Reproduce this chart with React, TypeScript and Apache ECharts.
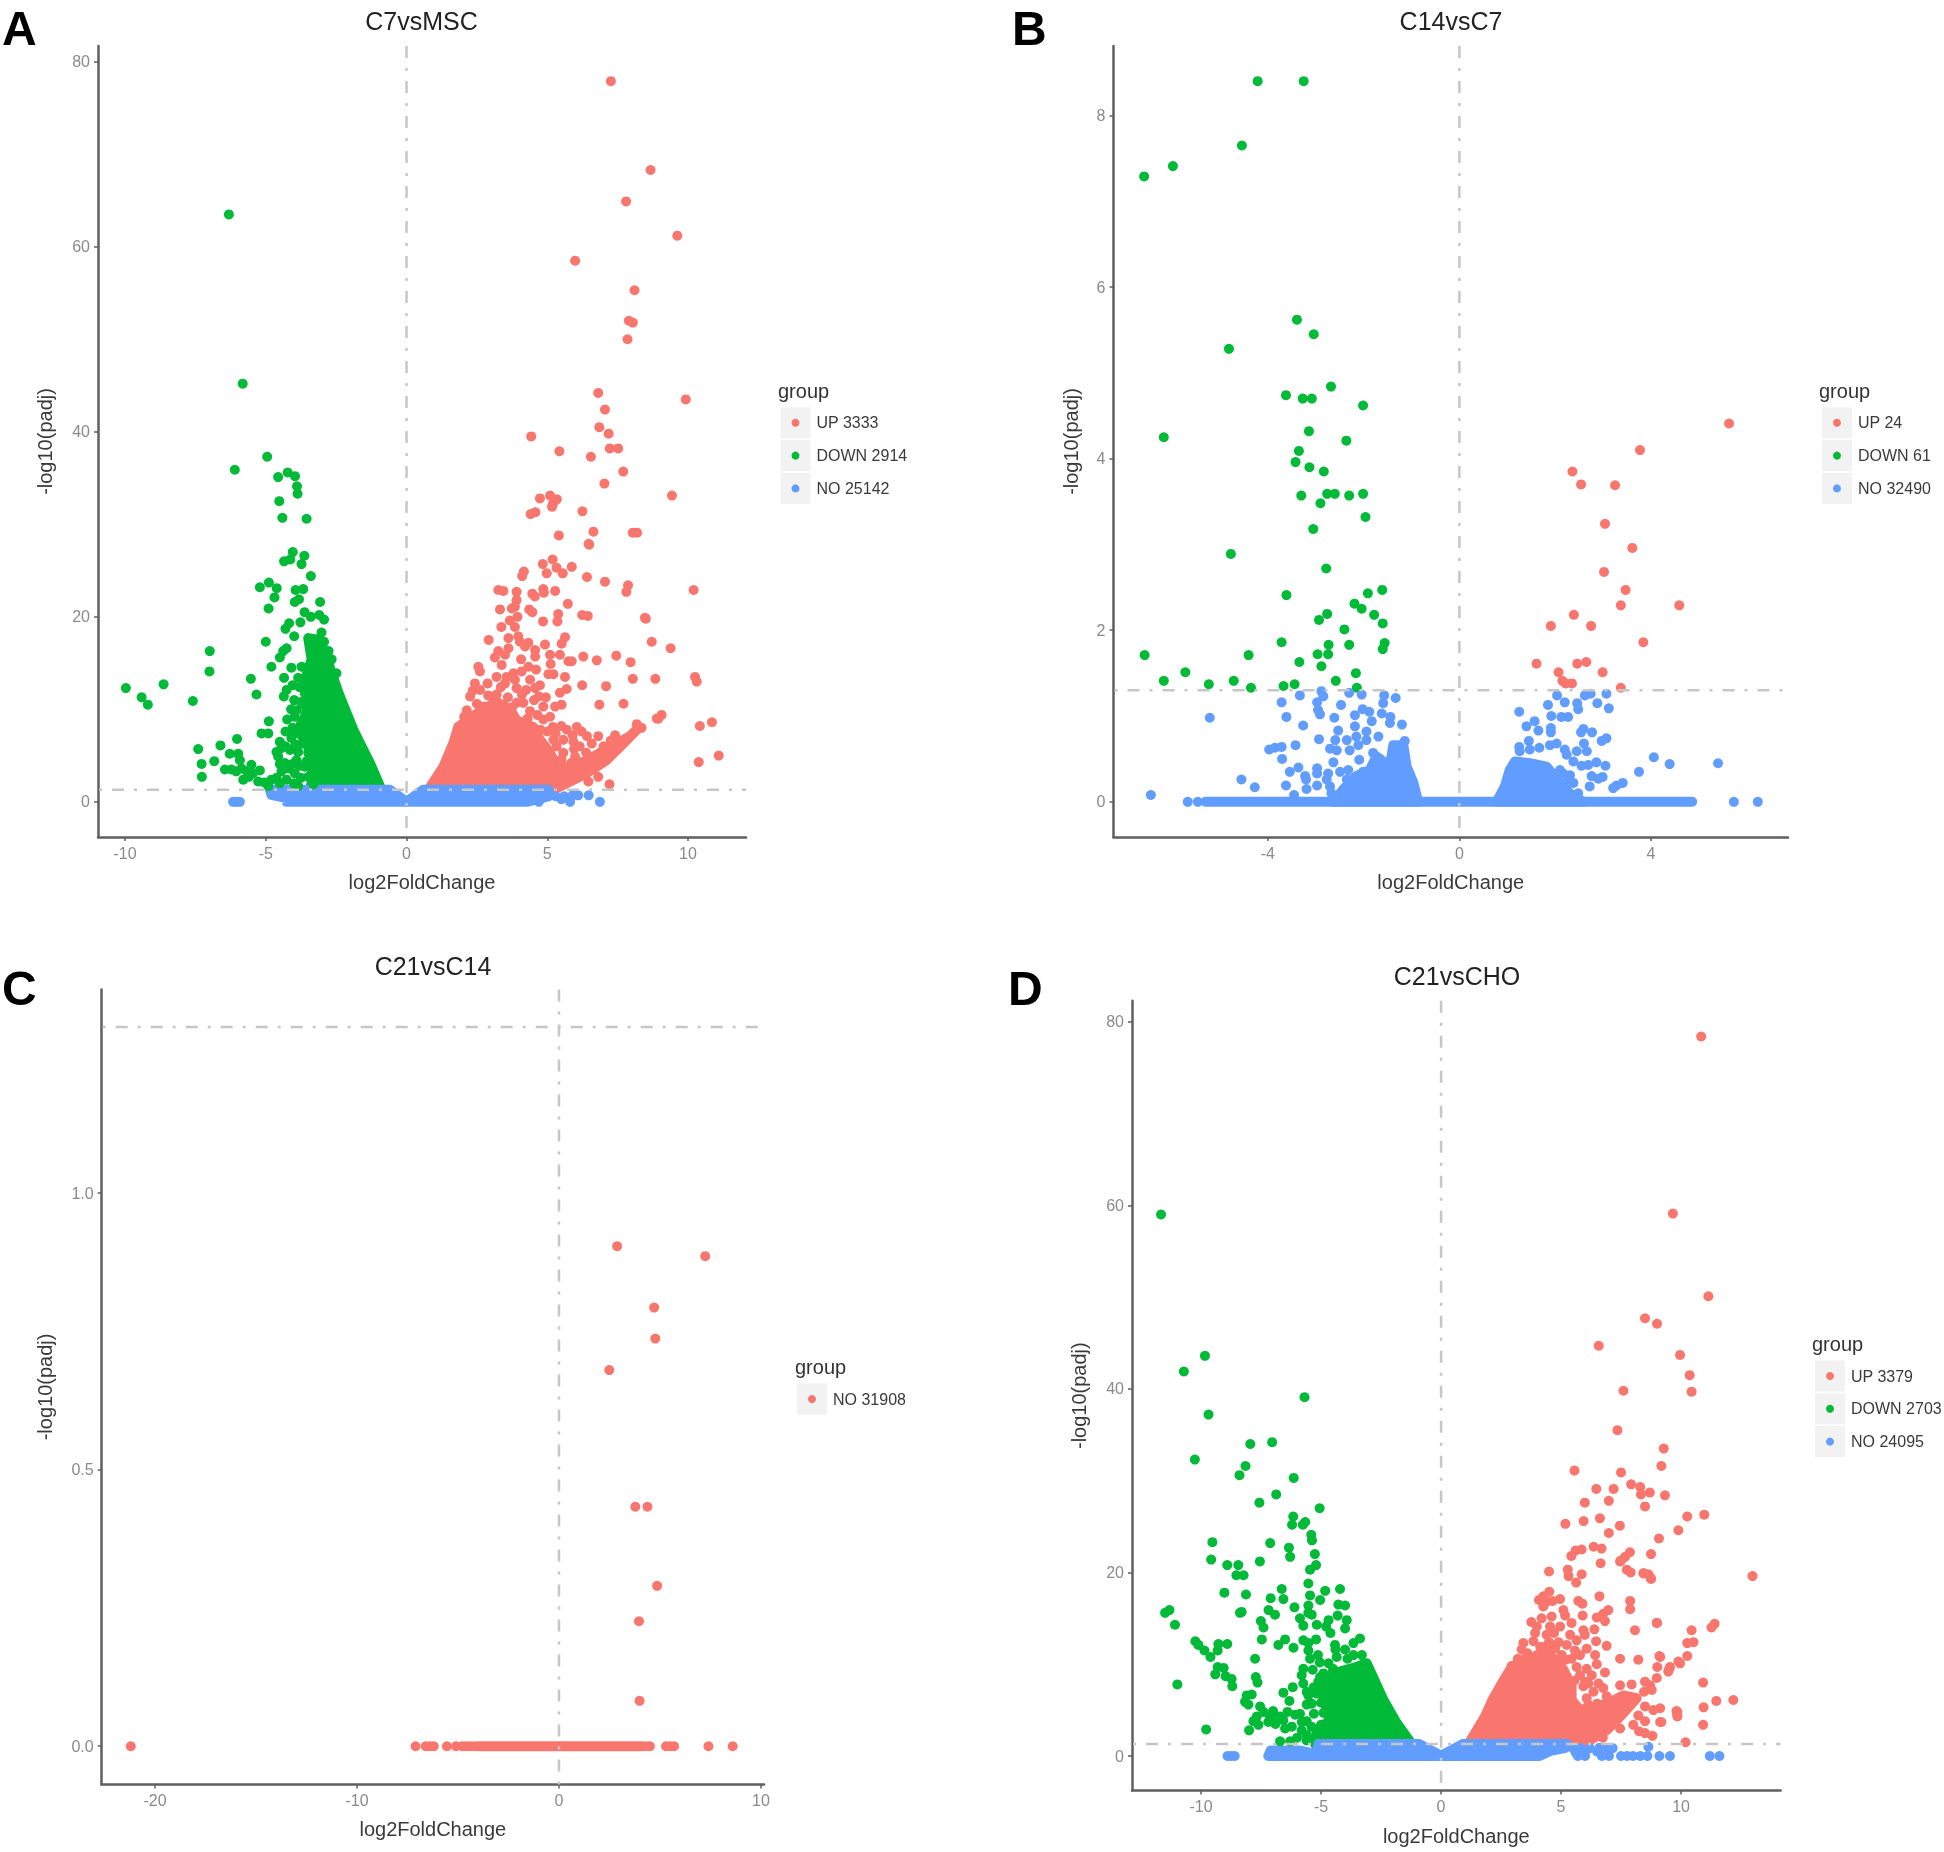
import React, { useEffect, useRef } from "react";
import * as echarts from "echarts";

type P = [number, number];

const RED = "#F8766D";
const GREEN = "#00BA38";
const BLUE = "#619CFF";
const FONT = "Liberation Sans";
const THRESHOLD = 1.3;

// ---- tick labels ----
const aXTicks = [-10, -5, 0, 5, 10];
const aYTicks = [0, 20, 40, 60, 80];
const bXTicks = [-4, 0, 4];
const bYTicks = [0, 2, 4, 6, 8];
const cXTicks = [-20, -10, 0, 10];
const cYTicks = [0, 0.5, 1];
const dXTicks = [-10, -5, 0, 5, 10];
const dYTicks = [0, 20, 40, 60, 80];

// ---- panel A, C7vsMSC. The *Cloud arrays are outlines, of regions where the dots overlap solidly ----
const aUp: P[] = [[7.26,77.9],[8.67,68.3],[7.8,64.9],[9.62,61.2],[5.99,58.5],[8.1,55.3],[7.9,52],[8.04,51.8],[7.85,50],[6.81,44.2],[9.92,43.5],[7.05,42.4],[6.85,40.5],[7.18,39.8],[4.43,39.5],[5.43,37.9],[7.22,38.2],[7.52,38.2],[6.55,37.3],[7.7,35.7],[7.03,34.4],[9.43,33.1],[4.74,32.8],[5.1,33.1],[5.34,32.7],[5.17,31.9],[5.2,32.2],[4.58,31.3],[4.41,31.1],[6.25,31.4],[6.64,29.2],[5.41,28.8],[8.04,29.1],[8.19,29.1],[6.49,27.8],
[10.2,22.9],[8.5,19.8],[9.38,16.6],[10.25,13.5],[10.31,13],[8.04,13.3],[8.84,13.3],[9.06,9.4],[8.95,9],[10.85,8.6],[10.42,8.2],[11.09,5],[10.38,4.3],
[6.47,27.9],[5.19,26.2],[4.84,25.7],[5.87,25.4],[5.33,25.3],[4.98,24.7],[5.55,24.7],[4.17,24.9],[4.11,24.4],[6.41,24.3],[7.05,23.8],[7.87,23.4],[7.81,22.7],[3.26,22.9],[3.44,22.8],[3.91,22.7],[4.86,23],[4.88,22.6],[5.28,22.8],[4.47,22.5],[4.56,22.2],[3.91,21.8],[3.85,21.1],[5.73,21.4],[3.32,20.8],[3.74,20.9],[4.36,20.8],[4.47,20.5],[6.24,20.2],[6.44,20.1],[8.47,19.9],[5.39,20.3],[5.36,19.5],[4.85,19.5],[3.94,20],[3.67,19.6],[3.85,18.9],[3.37,18.9],[2.92,17.5],[3.62,17.7],[3.97,17.9],[4.03,17.3],[4.33,17.2],[4.21,16.8],[5.63,17.8],[5.51,17.1],[4.92,17],[8.71,17.3],[4.57,16.4],[4.57,15.7],[3.62,16.6],[3.26,16.3],[3.14,15.6],[3.5,15.9],[4.07,15.4],[5.1,15.9],[5.45,15.9],[6.28,15.7],[6.76,15.3],[7.45,15.8],[7.96,15.1],[5.75,15.2],[5.87,15.2],[5.12,14.9],[3.38,14.8],[2.55,14.6],[2.61,14.1],[4.33,14.6],[4.6,14.3],[4.09,14.1],[3.8,13.9],[3.56,13.5],[3.2,13.5],[5.04,13.8],[5.22,13.8],[5.63,13.5],[2.43,12.8],[2.88,12.8],[3.85,13.2],[4.39,13.2],[4.74,12.6],[4.57,12.3],[6.24,12.6],[7.09,12.5],[5.69,12.2],[5.45,11.8],[2.26,11.4],[2.61,12.1],[3.5,12.8],[3.2,11.6],[3.91,12.3],[4.53,11],[5.51,10.5],[5.28,10.3],[4.86,10.3],[6.85,10.5],[7.71,10.6],[2.14,9.9],[4.15,10.7],[3.91,10.7],[4.39,9.8],[5.1,9.2],[4.86,8.9],[8.89,9],[8.18,8.4],[8.35,8],[1.84,8.1],[6.05,8.1],[5.69,7.8],[6.22,7.6],[6.41,7.1],[6.81,7.1],[7.41,7.2],[6.58,6.3],[5.22,6.7],[5.57,6.7],[5.33,6],[5.93,6.5],[5.57,5.3],[5.99,4.9],[6.38,5.3],[6.81,2.7],[7.21,1.9],[6.46,2.2],
[2.4,9.3],[2.75,10.3],[2.9,11.5],[3.35,12.4],[3.6,11.3],[4.1,11.6],[4.25,12.1],[4.7,11.4],[4.95,11.3],[4.3,9],[4.65,9.4],[3.75,10.2],[3.1,10.8],[2.5,10.6],[2.35,12],[2.05,9.2],[5.2,8.1],[5,7.6],[4.75,7.8],[5.5,8.2],[5.3,7.4],[5.9,7.2],[5.95,5.7],[6.15,6],[6.55,4.7],[7,6],[7.25,6.6],[6.2,4.3],[5.5,4.6],[5.85,4.2]];
const aDown: P[] = [[-6.31,63.5],[-5.82,45.2],[-6.1,35.9],[-4.95,37.3],[-4.22,35.6],[-3.96,35.2],[-4.56,35.1],[-3.89,34.1],[-3.87,33.3],[-4.52,32.5],[-4.41,30.7],[-3.55,30.6],[-4.04,27],[-3.63,26.6],[-4.13,26.2],[-8.63,12.7],[-9.97,12.3],[-9.41,11.3],[-9.19,10.5],[-7.59,10.9],
[-4.35,26],[-3.73,25.7],[-3.4,24.4],[-5.21,23.2],[-4.89,23.7],[-4.61,23.1],[-4.69,22.1],[-3.94,22.9],[-3.67,23],[-3.97,21.6],[-3.82,21.9],[-3.07,21.6],[-4.9,20.9],[-3.62,20.5],[-3.4,20],[-3.1,20.2],[-2.93,19.7],[-3.77,19.4],[-4.17,19.3],[-4.3,18.7],[-3.02,18.3],[-3.99,17.9],[-2.93,17.3],[-5,17.3],[-4.26,16.6],[-4.38,16.3],[-4.5,15.6],[-2.77,16.3],[-2.66,15.4],[-6.99,16.3],[-7,14.1],[-4.8,14.6],[-4.09,14.5],[-3.73,14.6],[-2.49,13.9],[-5.53,13.3],[-4.35,13.4],[-3.85,13.4],[-5.33,11.6],[-4.26,12.1],[-4.36,11.4],[-3.61,11.7],[-3.99,11],[-3.65,10.5],[-3.91,9.9],[-3.97,9.2],[-4.24,8.9],[-4.89,8.7],[-3.61,9.2],[-5.15,7.4],[-4.91,7.4],[-6.02,6.8],[-6.61,6.1],[-7.4,5.7],[-6.83,4.4],[-7.28,4.1],[-7.27,2.7],[-6.28,5.2],[-5.98,5.2],[-6.45,3.5],[-6.22,3.5],[-5.86,3.6],[-5.51,4],[-5.21,3.4],[-5.8,2.4],[-5.45,3.1],[-5.27,2.2],[-4.8,2.4],[-4.91,1.7],[-4.5,6.5],[-4.09,6.9],[-3.97,7.4],[-4.62,5.4],[-4.56,4.9],[-4.14,5.6],[-3.85,5.4],[-3.49,5.3],[-3.61,7.2],[-4.32,4.2],[-4.44,3.3],[-3.91,4.5],[-4.2,3.6],[-3.97,3.1],[-3.61,3.8],[-4.62,2.6],[-4.26,2.4],[-3.85,1.7],[-3.49,2.7],[-3.26,4.5],[-5.68,3.3],[-5.92,4.5],
[-3.6,12.8],[-3.8,12.4],[-4.05,12.6],[-3.75,10.8],[-4.1,10],[-3.75,8.4],[-4.05,8],[-4.3,7.6],[-3.7,6.3],[-3.95,6.2],[-4.3,6],[-4.45,5.8],[-3.55,4.4],[-3.8,3.9],[-4.05,4.1],[-4.5,4.1],[-3.75,2.6],[-4,2],[-4.5,2],[-3.3,1.9],[-5.05,2.1],[-5.6,2.7],[-6.05,3.3]];
const aNo: P[] = [[-6.16,0],[-6.04,0],[-5.92,0],[5.3,0.6],[5.6,0.6],[5.9,0.7],[6.1,0.7],[6.47,0.7],[5.81,0],[6.87,0],[4.7,0],[5.5,0.3]];
const aUpCloud: P[] = [[0.78,1.3],[1.31,3.8],[1.66,6.3],[1.84,8.1],[2.61,9.8],[3.2,10.8],[3.68,10],[3.91,8.8],[4.5,8.1],[4.74,6.7],[5.1,5.3],[5.33,3.8],[6.05,3.8],[6.87,5.3],[7.47,6.3],[7.94,7.1],[8.18,7.8],[7.7,6.3],[7.1,4.5],[6.4,3.1],[5.22,1.3]];
const aDownCloud: P[] = [[-0.89,1.3],[-1.3,4.2],[-1.6,6],[-1.89,7.8],[-2.25,10.5],[-2.43,11.9],[-2.66,13.9],[-2.87,15.9],[-3.08,17.5],[-3.49,17.7],[-3.37,15.4],[-3.55,13.7],[-3.45,11],[-3.61,9.2],[-3.85,7.8],[-3.49,6],[-3.32,2.7],[-3.43,1.3]];
const aNoCloud: P[] = [[-4.85,1.3],[-0.59,1.3],[0,0],[0.59,1.3],[5.04,1.3],[5.04,0.6],[4.27,0],[-4.26,0],[-4.26,0.4],[-4.8,0.75]];

// ---- panel B, C14vsC7 ----
const bUp: P[] = [[5.63,4.41],[3.77,4.1],[2.36,3.85],[2.54,3.7],[3.25,3.69],[3.04,3.24],[3.61,2.96],[3.02,2.68],[3.47,2.47],[4.59,2.29],[3.37,2.29],[2.39,2.18],[1.91,2.05],[2.75,2.05],[3.84,1.86],[2.65,1.63],[2.46,1.61],[1.61,1.61],[2.07,1.51],[2.99,1.51],[2.15,1.41],[2.35,1.38],[2.22,1.38],[3.37,1.33]];
const bDown: P[] = [[-4.21,8.4],[-3.25,8.4],[-4.54,7.65],[-5.98,7.41],[-6.58,7.29],[-3.39,5.62],[-3.04,5.45],[-4.81,5.28],[-2.68,4.84],[-3.62,4.74],[-3.27,4.7],[-3.08,4.7],[-2.01,4.62],[-3.14,4.32],[-6.17,4.25],[-2.36,4.21],[-3.35,4.09],[-3.42,3.96],[-3.13,3.9],[-2.83,3.85],[-3.3,3.57],[-2.76,3.59],[-2.6,3.59],[-2.3,3.57],[-2.01,3.59],[-2.9,3.48],[-1.96,3.32],[-3.05,3.18],[-4.77,2.89],[-2.78,2.72],[-1.61,2.47],[-1.91,2.43],[-3.61,2.41],[-2.19,2.31],[-2.04,2.25],[-1.78,2.18],[-2.76,2.19],[-2.93,2.12],[-1.6,2.08],[-2.4,2.01],[-3.71,1.86],[-2.73,1.83],[-2.3,1.83],[-1.56,1.85],[-1.6,1.78],[-6.57,1.71],[-4.4,1.71],[-2.96,1.72],[-2.74,1.72],[-3.34,1.63],[-2.88,1.58],[-5.72,1.51],[-2.16,1.5],[-6.17,1.41],[-4.71,1.41],[-2.58,1.41],[-5.23,1.37],[-3.44,1.37],[-3.67,1.35],[-4.35,1.33],[-2.14,1.33]];
const bNo: P[] = [[-5.67,0],[-5.46,0],[5.73,0],[6.23,0],[-6.44,0.08],[-5.21,0.98],[5.4,0.45],
[-3.33,1.24],[-2.88,1.29],[-2.84,1.23],[-2.3,1.27],[-2.04,1.25],[-1.57,1.24],[-1.33,1.21],[-3.71,1.16],[-2.97,1.16],[-2.95,1.07],[-2.47,1.13],[-1.59,1.15],[-3.61,0.99],[-2.91,1.02],[-2.61,0.98],[-2.18,1.01],[-2.02,1.08],[-1.88,1.05],[-1.62,1.03],[-1.83,0.94],[-1.44,0.99],[-1.45,0.92],[-1.2,0.9],[-3.26,0.89],[-2.93,0.73],[-2.53,0.83],[-2.18,0.88],[-1.94,0.82],[-2.35,0.72],[-2.15,0.76],[-1.94,0.72],[-1.69,0.76],[-2.59,0.72],[-1.14,0.71],[-3.42,0.66],[-3.97,0.61],[-3.85,0.63],[-3.71,0.64],[-2.7,0.62],[-2.56,0.6],[-2.29,0.6],[-2.11,0.66],[-3.7,0.5],[-2.63,0.46],[-2.09,0.49],[-1.8,0.57],[-1.66,0.5],[-3.36,0.4],[-3.54,0.35],[-2.97,0.39],[-2.97,0.33],[-3.22,0.3],[-3.2,0.26],[-2.74,0.33],[-2.77,0.26],[-4.55,0.26],[-4.27,0.17],[-3.62,0.19],[-3.19,0.15],[-2.97,0.19],[-2.7,0.18],[-2.67,0.1],[-2.49,0.35],[-2.32,0.37],[-2.01,0.35],[-2.35,0.26],[-2.39,0.14],[-3.45,0.08],
[2.04,1.24],[2.62,1.24],[2.74,1.26],[3.07,1.26],[1.85,1.13],[2.2,1.16],[2.46,1.15],[2.88,1.15],[3.12,1.09],[2.48,1.08],[1.25,1.05],[1.92,1],[2.13,0.99],[2.27,0.99],[1.57,0.94],[1.4,0.88],[1.65,0.83],[1.91,0.86],[1.91,0.81],[2.59,0.85],[2.54,0.81],[2.77,0.81],[3.07,0.74],[2.97,0.71],[1.45,0.71],[4.06,0.52],[4.39,0.44],[3.75,0.35],[3.41,0.22],[3.28,0.19],[3.21,0.16],[2.72,0.18],[2.76,0.3],[2.9,0.27],[2.99,0.29],[3.05,0.42],[2.86,0.46],[2.69,0.43],[2.55,0.42],[2.38,0.47],[2.24,0.55],[2.45,0.59],[2.66,0.59],[2.6,0.68],[2.03,0.68],[1.89,0.66],[1.67,0.63],[1.47,0.61],[1.25,0.64],[1.26,0.59],[2.2,0.61],[2.31,0.31],[2.38,0.22],[2.17,0.33],[2.27,0.26],[2.2,0.14],[2.48,0.1],[2.1,0.37]];
const bNoLeftCloud: P[] = [[-0.86,0],[-0.96,0.22],[-1.1,0.41],[-1.17,0.66],[-1.38,0.66],[-1.45,0.41],[-1.73,0.53],[-1.87,0.37],[-2.15,0.3],[-2.43,0.14],[-2.63,0]];
const bNoRightCloud: P[] = [[0.78,0],[0.95,0.18],[1.05,0.37],[1.16,0.47],[1.47,0.45],[1.82,0.41],[2.03,0.26],[2.38,0.06],[2.59,0]];
const bNoBaseCloud: P[] = [[-5.3,0],[4.86,0]];

// ---- panel C, C21vsC14 ----
const cNo: P[] = [[2.88,0.904],[7.24,0.886],[4.71,0.793],[4.77,0.737],[2.49,0.68],[3.78,0.433],[4.38,0.433],[4.86,0.29],[3.96,0.226],[3.99,0.082],[-21.2,0],[-7.1,0],[-6.6,0],[-6.4,0],[-6.2,0],[-5.55,0],[-5.1,0],[-4.8,0],[-4.6,0],[-4.4,0],[-4.2,0],[4.3,0],[4.5,0],[5.3,0],[5.5,0],[5.7,0],[7.4,0],[8.6,0]];
const cNoBaseCloud: P[] = [[-4,0],[4.1,0]];

// ---- panel D, C21vsCHO ----
const dUp: P[] = [[10.84,78.4],[9.66,59.1],[11.14,50.1],[8.5,47.7],[9,47.1],[6.57,44.7],[9.96,43.7],[10.36,41.5],[10.44,39.7],[7.6,39.8],[7.35,35.5],[9.28,33.5],[9.18,31.6],[5.56,31.1],[7.5,30.9],[7.92,29.6],[8.3,29.3],[8.7,28.7],[8.33,28.5],[9.33,28.4],[6.47,29.1],[7.19,29.1],[6.99,27.8],[5.99,27.6],[8.5,27.2],[10.97,26.3],[10.26,26.1],[6.62,25.9],[5.94,25.6],[5.18,25.3],[7.45,25.1],[9.89,24.6],[6.99,24.3],[9.08,23.7],[6.36,22.8],[6.69,22.6],[5.86,22.5],[5.61,22.4],[5.43,21.8],[7.87,22.2],[7.67,21.7],[7.5,21.3],[8.75,22],[12.98,19.6],[8.45,19.9],[8.75,19.3],[9,14.5],[11.4,14.4],[11.27,14],[10.44,13.7],[10.26,12.3],[10.52,12.4],[9.13,10.8],[10.26,10.9],[9.96,10.1],[9.51,9.5],[10.92,8],[11.47,6],[12.18,6.1],[10.94,5.3],[9.81,4.9],[9.84,4.5],[10.92,3.4],[10.19,1.5],[9.18,3.7],
[4.5,20.1],[5.28,20.3],[5.31,19.6],[5.86,19.8],[5.63,18.9],[6.65,21],[7.74,20.3],[7.9,20],[8.43,19.9],[8.64,19.8],[8.74,19.4],[7.46,21.2],[4.51,17.9],[4.26,17.4],[4.08,17],[4.4,16.8],[4.96,17.1],[4.26,16.3],[4.65,16.9],[6.6,17.4],[5.72,16.9],[5.89,16.6],[7.88,16.9],[7.88,16],[6.97,15.9],[5.1,15.9],[5.17,15.3],[4.61,15.2],[4.19,15],[5.9,15.3],[6.76,15.5],[6.49,15.1],[6.83,14.7],[3.76,14.6],[8.99,14.5],[5.44,14.5],[8.08,13.7],[3.99,14.1],[4.54,14.1],[4.96,14.1],[4.71,13.4],[5.93,13.7],[5.99,13.2],[6.39,13.8],[5.38,13.2],[3.92,13.4],[4.4,13.2],[5.65,12.6],[6.46,12.5],[3.85,12.5],[3.43,12.3],[3.36,11.6],[4.13,11.9],[4.75,11.7],[5.24,12.1],[5.58,11.5],[6.07,11.7],[6.9,12],[5.79,11],[6.42,11],[5.03,11],[5.44,10.6],[6.49,10],[7.46,10.6],[8.22,10.5],[9.1,10.9],[9.89,10.3],[9.01,9.7],[9.54,9.7],[9.47,9.2],[2.94,9.8],[5.65,9.7],[6.07,9.5],[6.83,9.1],[5.79,8.8],[6.28,8.8],[8.99,8.5],[6.14,7.9],[6,8.1],[5.93,7.6],[6.56,7.9],[6.76,7.4],[7.46,7.7],[7.94,7.8],[8.5,8.1],[8.71,7.7],[8.78,7.2],[8.46,7],[6.35,7],[6.07,6.3],[6.9,6.5],[6.14,5.6],[8.5,5.4],[9.13,5.2],[8.85,5],[9.85,4.8],[9.85,4.3],[8.22,4.4],[9.13,3.7],[8.5,3.8],[8.01,3.4],[7.46,3],[8.25,2.7],[8.5,2.5],[8.81,2.2],[6.74,2],
[3.6,11.2],[3.2,10.6],[4,11],[4.5,12.4],[4.9,12.4],[5.2,10.5],[5.55,8.2],[6.5,5.7],[6.2,4.8],[6.7,4.5],[7.1,4.5]];
const dDown: P[] = [[-11.67,59],[-9.84,43.6],[-10.72,41.9],[-9.69,37.2],[-5.69,39.1],[-10.26,32.3],[-7.95,34],[-7.04,34.2],[-8.15,31.6],[-8.4,30.6],[-6.14,30.3],[-6.87,28.5],[-7.57,27.6],[-5.06,27],[-6.16,26.1],[-5.66,25.5],[-5.76,25.2],[-6.21,25.2],[-5.41,24.1],[-5.38,23.5],[-9.53,23.3],[-7.12,23.2],[-6.34,22.7],[-5.26,22],[-6.29,21.7],[-9.58,21.4],[-7.55,21.2],[-8.91,20.8],[-8.45,20.8],[-5.21,20.8],[-5.46,20.3],[-8.53,19.7],[-8.23,19.7],[-9.03,17.8],[-11.32,15.9],[-11.5,15.6],[-8.38,15.6],[-11.09,14.3],[-10.24,12.5],[-10.11,12.1],[-9.28,12.2],[-8.91,12.2],[-9.86,11.5],[-9.31,11.5],[-9.61,10.8],[-9.31,9.7],[-9.06,9.6],[-9.41,8.9],[-8.98,8.7],[-8.73,8.4],[-10.99,7.8],[-8.7,7.6],[-9.79,2.9],
[-5.53,18.8],[-4.83,18],[-4.21,18.2],[-4.28,16.5],[-4,16.4],[-5.04,17],[-5.46,17.5],[-5.53,16.4],[-6.64,18.2],[-6.57,17.1],[-7.1,17.2],[-8.13,17.6],[-6.11,16.2],[-7.19,15.9],[-6.92,15.4],[-8.31,15.7],[-5.53,15.6],[-5.88,15],[-5.74,14.2],[-5.39,15.4],[-5.18,14.3],[-4.69,14.8],[-4.31,15.3],[-3.93,14.8],[-4.79,14.1],[-4.61,13.4],[-4,13.9],[-7.51,14.7],[-7.4,14],[-7.47,12.7],[-6.5,12.7],[-6.78,12.1],[-6.15,11.8],[-5.74,12.6],[-5.53,12.3],[-5.21,12.7],[-3.38,12.8],[-3.65,12.3],[-4.42,12.1],[-7.75,10.6],[-5.53,11.5],[-5.46,10.6],[-5.13,11],[-4.69,10.1],[-5.74,9.5],[-5.81,8.8],[-5.74,7.9],[-5.04,8.6],[-7.72,8.6],[-7.65,8],[-6.18,7.5],[-6.57,6.9],[-6.32,6],[-8.1,6.6],[-7.89,6.7],[-8.17,5.9],[-8.03,5.6],[-7.54,5.4],[-5.53,6.6],[-5.6,5.6],[-7.4,4.8],[-6.99,4.5],[-6.71,4.3],[-7.68,4.3],[-7.82,3.8],[-7.61,3.4],[-8,2.8],[-6.08,4.5],[-5.88,4.6],[-6.57,3.9],[-6.22,3.2],[-5.81,2.8],[-6.71,1.6],[-5.6,2.3],[-5.39,5.7],[-7.13,4.3],[-5.18,6.8],[-6.29,1.6],
[-4.9,9],[-4.5,9.5],[-3.9,10.6],[-4.35,10.8],[-4,11.6],[-3.65,11],[-3.3,11],[-5.3,7.5],[-5,5.8],[-4.9,4.7],[-5,3.4],[-5.3,4.6],[-5.6,3.8],[-5.4,3.2],[-5.8,3.7],[-6,2],[-5.6,1.7],[-6.5,3],[-6.9,3.5],[-7.2,3.7],[-6.4,4.8],[-7,4.9],[-4.4,11.6],[-5.6,7],[-5.35,9.4],[-5.05,10.2]];
const dNo: P[] = [[-8.9,0],[-8.75,0],[-8.6,0],[5.5,0.85],[5.8,0.85],[6.2,0.85],[6.6,0.9],[6.9,0.9],[7.15,0.85],[6,0.5],[6.5,0.5],[5.6,0.4],[5.7,0],[6,0],[6.7,0],[7,0],[7.5,0],[7.75,0],[8,0],[8.3,0],[8.6,0],[8.64,1],[9.1,0],[9.54,0],[11.2,0],[11.6,0]];
const dUpCloud: P[] = [[1.14,1.3],[1.83,4.3],[2.14,6.1],[2.53,7.9],[2.94,9.7],[3.43,10.5],[4.13,10.8],[4.33,11.9],[4.61,10.8],[5.1,9.4],[5.44,7.6],[5.44,6.1],[5.79,5],[6.9,5.7],[7.6,6.6],[8.15,6.3],[7.46,4.3],[6.9,2.8],[6.14,1.6],[5.24,1.3]];
const dDownCloud: P[] = [[-1.22,1.3],[-1.85,3.6],[-2.4,6.1],[-2.75,8.1],[-3.1,10.1],[-3.65,9.6],[-4.49,9],[-5.11,8.1],[-4.9,6.5],[-4.63,3.9],[-5.18,2.8],[-5.25,1.3]];
const dNoCloud: P[] = [[-5.11,1.3],[-0.9,1.3],[0,0.05],[0.9,1.3],[5.25,1.3],[5.2,0.9],[4.6,0.6],[4.1,0],[-7.2,0],[-7.1,0.6],[-5.9,0.6],[-5.2,0.2]];

// ---- names and legend ----
const panelTitles = ["C7vsMSC", "C14vsC7", "C21vsC14", "C21vsCHO"];
const panelLetters = ["A", "B", "C", "D"];
const aLegend = ["UP 3333", "DOWN 2914", "NO 25142"];
const bLegend = ["UP 24", "DOWN 61", "NO 32490"];
const cLegend = ["NO 31908"];
const dLegend = ["UP 3379", "DOWN 2703", "NO 24095"];

const LAYOUT = [
  { left: 98, right: 746, top: 46, bottom: 837, xMin: -10.96, xMax: 12.06, yMin: -3.8, yMax: 81.7, yGap: 43, titleX: 421.5, titleY: 22, letterX: 2, letterY: 28, dotX: 795.5, rowY: 422.8, groupX: 778, groupY: 392 },
  { left: 1113.5, right: 1788, top: 46, bottom: 837, xMin: -7.22, xMax: 6.86, yMin: -0.41, yMax: 8.81, yGap: 33, titleX: 1451, titleY: 22, letterX: 1012, letterY: 28, dotX: 1837, rowY: 422.8, groupX: 1819, groupY: 392 },
  { left: 101.7, right: 764, top: 989.5, bottom: 1784.4, xMin: -22.64, xMax: 10.15, yMin: -0.069, yMax: 1.368, yGap: 47, titleX: 433, titleY: 967, letterX: 2, letterY: 988, dotX: 812, rowY: 1399, groupX: 795, groupY: 1368 },
  { left: 1132, right: 1780.6, top: 1000.7, bottom: 1790.6, xMin: -12.88, xMax: 14.15, yMin: -3.77, yMax: 82.3, yGap: 43, titleX: 1457, titleY: 977, letterX: 1008, letterY: 988, dotX: 1830, rowY: 1376, groupX: 1812, groupY: 1345 },
];
const ROW = 32.8;
const DOT = 10;
const LEGEND_DOT = 8;
const LETTER_SIZE = 48;

function cloud(name: string, color: string, pts: P[], i: number) {
  return {
    type: "custom", name, xAxisIndex: i, yAxisIndex: i, silent: true, clip: true,
    encode: { x: 0, y: 1 }, data: pts, itemStyle: { color },
    renderItem: (params: any, api: any) =>
      params.dataIndex === 0
        ? { type: "polygon", shape: { points: pts.map((p) => api.coord(p)) },
            style: { fill: color, stroke: color, lineWidth: DOT, lineJoin: "round" } }
        : null,
  };
}
function dots(name: string, color: string, pts: P[], i: number) {
  return {
    type: "scatter", name, xAxisIndex: i, yAxisIndex: i, data: pts, symbolSize: DOT, silent: true,
    itemStyle: { color, opacity: 1 }, z: 2,
  };
}
function guide(i: number, pts: P[], dashOffset: number) {
  return {
    type: "line", name: "guide" + i + dashOffset, xAxisIndex: i, yAxisIndex: i, data: pts, showSymbol: false, silent: true, z: 5,
    lineStyle: { color: "#c6c6c6", width: 2.5, type: [12, 10, 3, 10], dashOffset },
  };
}

function buildOption() {
  const xTicks = [aXTicks, bXTicks, cXTicks, dXTicks];
  const yTicks = [aYTicks, bYTicks, cYTicks, dYTicks];
  const grid = LAYOUT.map((l) => ({ left: l.left, top: l.top, width: l.right - l.left, height: l.bottom - l.top, containLabel: false }));
  const axisBase = {
    type: "value", splitLine: { show: false },
    axisLine: { show: true, onZero: false, lineStyle: { color: "#5f5f5f", width: 2.5 } },
    nameLocation: "middle",
    nameTextStyle: { fontFamily: FONT, fontSize: 20, color: "#3a3a3a" },
  };
  const tickStyle = { show: true, length: 4, lineStyle: { color: "#5f5f5f", width: 1.5 } };
  const labelStyle = { show: true, fontFamily: FONT, fontSize: 16, color: "#8a8a8a" };
  const xAxis = LAYOUT.map((l, i) => ({
    ...axisBase, gridIndex: i, position: "bottom", min: l.xMin, max: l.xMax, name: "log2FoldChange", nameGap: 35,
    axisTick: { ...tickStyle, customValues: xTicks[i] },
    axisLabel: { ...labelStyle, margin: 8, customValues: xTicks[i] },
  }));
  const yAxis = LAYOUT.map((l, i) => ({
    ...axisBase, gridIndex: i, position: "left", min: l.yMin, max: l.yMax, name: "-log10(padj)", nameGap: l.yGap,
    axisTick: { ...tickStyle, customValues: yTicks[i] },
    axisLabel: { ...labelStyle, margin: 8, customValues: yTicks[i],
      formatter: (v: number) => (i === 2 ? v.toFixed(1) : String(v)) },
  }));

  const series: any[] = [
    dots(aLegend[0], RED, aUp, 0), cloud(aLegend[0], RED, aUpCloud, 0),
    dots(aLegend[1], GREEN, aDown, 0), cloud(aLegend[1], GREEN, aDownCloud, 0),
    dots(aLegend[2], BLUE, aNo, 0), cloud(aLegend[2], BLUE, aNoCloud, 0),
    dots(bLegend[0], RED, bUp, 1),
    dots(bLegend[1], GREEN, bDown, 1),
    dots(bLegend[2], BLUE, bNo, 1), cloud(bLegend[2], BLUE, bNoLeftCloud, 1), cloud(bLegend[2], BLUE, bNoRightCloud, 1), cloud(bLegend[2], BLUE, bNoBaseCloud, 1),
    dots(cLegend[0], RED, cNo, 2), cloud(cLegend[0], RED, cNoBaseCloud, 2),
    dots(dLegend[0], RED, dUp, 3), cloud(dLegend[0], RED, dUpCloud, 3),
    dots(dLegend[1], GREEN, dDown, 3), cloud(dLegend[1], GREEN, dDownCloud, 3),
    dots(dLegend[2], BLUE, dNo, 3), cloud(dLegend[2], BLUE, dNoCloud, 3),
  ];
  LAYOUT.forEach((l, i) => {
    series.push(guide(i, [[l.xMin, THRESHOLD], [l.xMax, THRESHOLD]], 21));
    series.push(guide(i, [[0, l.yMax], [0, l.yMin]], 0));
  });

  const legendNames = [aLegend, bLegend, cLegend, dLegend];
  const legend = LAYOUT.map((l, i) => ({
    orient: "vertical", left: l.dotX - LEGEND_DOT / 2, top: l.rowY - 8, padding: 0, selectedMode: false,
    icon: "circle", itemWidth: LEGEND_DOT, itemHeight: LEGEND_DOT, itemGap: ROW - 16, data: legendNames[i],
    textStyle: { fontFamily: FONT, fontSize: 16, lineHeight: 16, color: "#3a3a3a", padding: [0, 0, 0, 12] },
  }));

  const elements: any[] = [];
  LAYOUT.forEach((l, i) => {
    legendNames[i].forEach((_, r) => {
      elements.push({ type: "rect", left: l.dotX - 15, top: l.rowY + r * ROW - 15.5, z: 0, shape: { width: 30, height: 31 }, style: { fill: "#f2f2f2" } });
    });
    elements.push({ type: "text", left: l.groupX, top: l.groupY - 11, z: 6, style: { text: "group", fontFamily: FONT, fontSize: 20, fill: "#333" } });
    elements.push({ type: "text", left: l.letterX, top: l.letterY - LETTER_SIZE / 2, z: 6, style: { text: panelLetters[i], fontFamily: FONT, fontWeight: "bold", fontSize: LETTER_SIZE, fill: "#000" } });
  });

  const title = LAYOUT.map((l, i) => ({
    text: panelTitles[i], left: l.titleX, top: l.titleY - 14, textAlign: "center", padding: 0,
    textStyle: { fontFamily: FONT, fontSize: 25, fontWeight: "normal", color: "#222" },
  }));

  return { animation: false, backgroundColor: "#fff", title, grid, xAxis, yAxis, legend, series, graphic: { elements } };
}

export default function App() {
  const ref = useRef<HTMLDivElement>(null);
  useEffect(() => {
    const chart = echarts.init(ref.current!, undefined, { renderer: "svg" });
    chart.setOption(buildOption() as any);
    return () => chart.dispose();
  }, []);
  return (
    <div
      ref={ref}
      style={{ position: "fixed", left: 0, top: 0, width: 1944, height: 1852, filter: "blur(0.6px)" }}
    />
  );
}
